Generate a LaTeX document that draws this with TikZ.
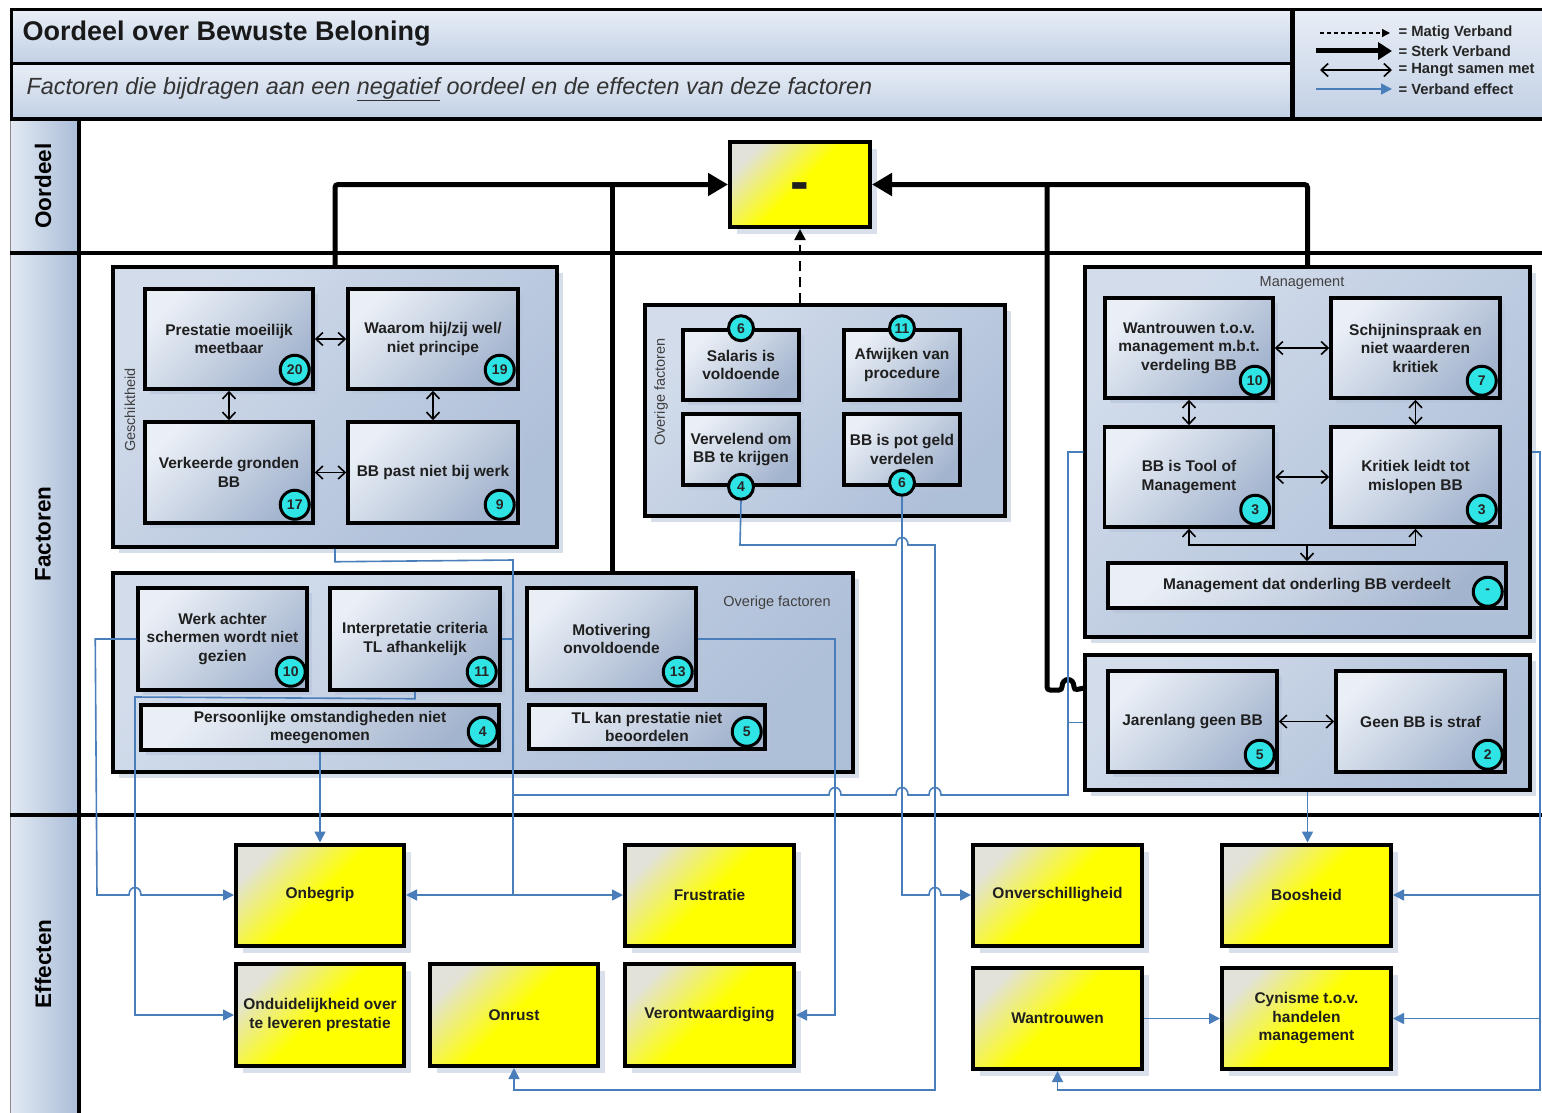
\documentclass[tikz,border=0pt]{standalone}
\usepackage{fontspec}
\setmainfont{Liberation Sans}
\usetikzlibrary{arrows.meta,shadows,calc}

\definecolor{hdrTop}{HTML}{E8EEF6}
\definecolor{hdrBot}{HTML}{C2D0E5}
\definecolor{laneL}{HTML}{E2E9F3}
\definecolor{laneR}{HTML}{AABDD8}
\definecolor{grpA}{HTML}{D2DCEB}
\definecolor{grpB}{HTML}{AEBFD8}
\definecolor{boxA}{HTML}{EAEFF6}
\definecolor{boxB}{HTML}{A3B4CE}
\definecolor{yelA}{HTML}{E2E2D8}
\definecolor{yelB}{HTML}{FFFF00}
\definecolor{badgeC}{HTML}{2FE4E4}
\definecolor{effBlue}{HTML}{4A7EBB}
\definecolor{shadowC}{HTML}{B5C3DA}

% line jumps (small arcs) on horizontal connectors
\newcommand\jumpR[2]{-- ({#1-6},#2) .. controls ({#1-6},{#2-10}) and ({#1+6},{#2-10}) .. ({#1+6},#2)}
\newcommand\jumpL[2]{-- ({#1+6},#2) .. controls ({#1+6},{#2-10}) and ({#1-6},{#2-10}) .. ({#1-6},#2)}

\begin{document}
\begin{tikzpicture}[x=1pt,y=-1pt,
  hdrbox/.style={draw=black, line width=3, top color=hdrTop, bottom color=hdrBot, inner sep=0, anchor=north west},
  lanecell/.style={left color=laneL, right color=laneR},
  lanetext/.style={rotate=90, font=\fontsize{22.5}{24}\selectfont\bfseries},
  grp/.style={draw=black, line width=3.5, top color=grpA, bottom color=grpB, shading angle=45, inner sep=0,
    drop shadow={shadow xshift=6pt, shadow yshift=-6pt, fill=shadowC, opacity=0.55}},
  grplabel/.style={font=\fontsize{14.5}{16}\selectfont, text=black!75},
  fbox/.style={draw=black, line width=3.5, top color=boxA, bottom color=boxB, shading angle=45, inner sep=1,
    align=center, font=\fontsize{15.5}{18.5}\selectfont\bfseries, text=black!88,
    drop shadow={shadow xshift=5pt, shadow yshift=-5pt, fill=shadowC, opacity=0.6}},
  ebox/.style={draw=black, line width=4, top color=yelA, bottom color=yelB, middle color=yelB, shading angle=45,
    inner sep=1, align=center, font=\fontsize{15.5}{18.5}\selectfont\bfseries, text=black!88,
    minimum width=169, minimum height=101,
    drop shadow={shadow xshift=7pt, shadow yshift=-7pt, fill=shadowC, opacity=0.5}},
  badge/.style={circle, draw=black, line width=3, fill=badgeC, minimum size=29, inner sep=0,
    font=\fontsize{14}{14}\selectfont\bfseries, text=black!85},
  assoc/.style={draw=black, line width=1.6, {Straight Barb[length=7pt,width=13pt]}-{Straight Barb[length=7pt,width=13pt]}},
  assocend/.style={draw=black, line width=1.6, -{Straight Barb[length=7pt,width=13pt]}},
  eff/.style={draw=effBlue, line width=1.6, -{Triangle[length=11pt,width=11pt]}},
  effl/.style={draw=effBlue, line width=1.6},
  strong/.style={draw=black, line width=5, rounded corners=3, -{Triangle[length=20pt,width=22pt]}},
  strongl/.style={draw=black, line width=5, rounded corners=3},
  moderate/.style={draw=black, line width=2, dash pattern=on 10pt off 6pt, -{Triangle[length=11pt,width=11pt]}},
  legtext/.style={anchor=west, font=\fontsize{14.8}{16}\selectfont\bfseries, text=black!85}
]
\useasboundingbox (0,0) rectangle (1542,1113);
\fill[white] (0,0) rectangle (1542,1113);

% ---------- header ----------
\node[hdrbox, minimum width=1280, minimum height=54] (titlebar) at (10,8) {};
\node[hdrbox, minimum width=1280, minimum height=55] (subbar) at (10,62) {};
\node[hdrbox, minimum width=250, minimum height=109] (legend) at (1292,8) {};
\node[anchor=west, font=\fontsize{27}{30}\selectfont\bfseries, text=black!90] (title) at (19,34) {Oordeel over Bewuste Beloning};
\node[anchor=west, font=\fontsize{23.4}{26}\selectfont\itshape, text=black!80] (subtitle) at (23,89)
  {Factoren die bijdragen aan een \underline{negatief} oordeel en de effecten van deze factoren};

% legend
\coordinate (la1) at (1320,33); \coordinate (lb1) at (1390,33);
\coordinate (la2) at (1316,51); \coordinate (lb2) at (1392,51);
\coordinate (la3) at (1320,70); \coordinate (lb3) at (1392,70);
\coordinate (la4) at (1316,89); \coordinate (lb4) at (1392,89);
\draw[draw=black, line width=1.2, dash pattern=on 4pt off 3pt, -{Triangle[length=8pt,width=8pt]}] (la1) -- (lb1);
\draw[draw=black, line width=5, -{Triangle[length=14pt,width=17pt]}] (la2) -- (lb2);
\draw[assoc] (la3) -- (lb3);
\draw[eff] (la4) -- (lb4);
\node[legtext] (lt1) at (1395,33) {= Matig Verband};
\node[legtext] (lt2) at (1395,51) {= Sterk Verband};
\node[legtext] (lt3) at (1395,70) {= Hangt samen met};
\node[legtext] (lt4) at (1395,89) {= Verband effect};

% ---------- swimlanes ----------
\fill[lanecell] (10,120) rectangle (79,253);
\fill[lanecell] (10,253) rectangle (79,815);
\fill[lanecell] (10,815) rectangle (79,1113);
\node[lanetext] (lane1) at (43,186) {Oordeel};
\node[lanetext] (lane2) at (43,534) {Factoren};
\node[lanetext] (lane3) at (43,964) {Effecten};
\draw[black!45, line width=1] (10,120) -- (10,1113);
\draw[black, line width=3.5] (79,120) -- (79,1113);
\draw[black, line width=3.5] (10,119) -- (1542,119);
\draw[black, line width=3.5] (10,253) -- (1542,253);
\draw[black, line width=3.5] (10,815) -- (1542,815);

% ---------- judgement ----------
\node[ebox, minimum width=140, minimum height=85, text height=31pt, text depth=0pt,
  font=\fontsize{56}{56}\selectfont\bfseries] (neg) at (800,184.5) {-};

% ---------- factor groups ----------
\node[grp, minimum width=444, minimum height=280] (g1) at (335,407) {};
\node[grp, minimum width=360, minimum height=211] (g2) at (825,410.5) {};
\node[grp, minimum width=740, minimum height=199] (g3) at (483,672.5) {};
\node[grp, minimum width=445, minimum height=370] (g4) at (1307.5,452) {};
\node[grp, minimum width=445, minimum height=135] (g5) at (1307.5,722.5) {};

\node[grplabel, rotate=90] (l1) at (130,410) {Geschiktheid};
\node[grplabel, rotate=90] (l2) at (661,392) {Overige factoren};
\node[grplabel] (l3) at (777,603) {Overige factoren};
\node[grplabel] (l4) at (1302,283) {Management};

% Geschiktheid
\node[fbox, minimum width=168, minimum height=100] (pm) at (229,339) {Prestatie moeilijk\\meetbaar};
\node[fbox, minimum width=170, minimum height=100] (wh) at (433,339) {Waarom hij/zij wel/\\niet principe};
\node[fbox, minimum width=168, minimum height=101] (vg) at (229,472.5) {Verkeerde gronden\\BB};
\node[fbox, minimum width=170, minimum height=101] (bp) at (433,472.5) {BB past niet bij werk};
\node[badge] (b-pm) at ($(pm.south east)+(-20,-21)$) {20};
\node[badge] (b-wh) at ($(wh.south east)+(-20,-21)$) {19};
\node[badge] (b-vg) at ($(vg.south east)+(-20,-20)$) {17};
\node[badge] (b-bp) at ($(bp.south east)+(-20,-20)$) {9};

% Overige factoren (middle)
\node[fbox, minimum width=116, minimum height=70] (sal) at (741,365) {Salaris is\\voldoende};
\node[fbox, minimum width=116, minimum height=70] (afw) at (902,365) {Afwijken van\\procedure};
\node[fbox, minimum width=116, minimum height=71] (verv) at (741,449.5) {Vervelend om\\BB te krijgen};
\node[fbox, minimum width=116, minimum height=71] (pot) at (902,449.5) {BB is pot geld\\verdelen};
\node[badge, minimum size=25] (b-sal) at (sal.north) {6};
\node[badge, minimum size=25] (b-afw) at (afw.north) {11};
\node[badge, minimum size=25] (b-verv) at (verv.south) {4};
\node[badge, minimum size=25] (b-pot) at ($(pot.south)+(0,-4)$) {6};

% Overige factoren (lower)
\node[fbox, minimum width=169, minimum height=102] (wrk) at (222.5,639) {Werk achter\\schermen wordt niet\\gezien};
\node[fbox, minimum width=170, minimum height=102] (int) at (415,639) {Interpretatie criteria\\TL afhankelijk};
\node[fbox, minimum width=169, minimum height=102] (mot) at (611.5,639) {Motivering\\onvoldoende};
\node[fbox, minimum width=358, minimum height=45] (per) at (320,727.5) {Persoonlijke omstandigheden niet\\meegenomen};
\node[fbox, minimum width=236, minimum height=44] (tl) at (647,727) {TL kan prestatie niet\\beoordelen};
\node[badge] (b-wrk) at ($(wrk.south east)+(-18,-20)$) {10};
\node[badge] (b-int) at ($(int.south east)+(-20,-20)$) {11};
\node[badge] (b-mot) at ($(mot.south east)+(-20,-20)$) {13};
\node[badge] (b-per) at ($(per.south east)+(-18,-20)$) {4};
\node[badge] (b-tl) at ($(tl.south east)+(-20,-19)$) {5};

% Management
\node[fbox, minimum width=168, minimum height=100] (wan) at (1189,348) {Wantrouwen t.o.v.\\management m.b.t.\\verdeling BB};
\node[fbox, minimum width=169, minimum height=100] (sch) at (1415.5,348) {Schijninspraak en\\niet waarderen\\kritiek};
\node[fbox, minimum width=169, minimum height=100] (tool) at (1189,477) {BB is Tool of\\Management};
\node[fbox, minimum width=169, minimum height=100] (krit) at (1415.5,477) {Kritiek leidt tot\\mislopen BB};
\node[fbox, minimum width=398, minimum height=45] (mdat) at (1307,585.5) {Management dat onderling BB verdeelt};
\node[badge] (b-wan) at ($(wan.south east)+(-20,-19)$) {10};
\node[badge] (b-sch) at ($(sch.south east)+(-20,-19)$) {7};
\node[badge] (b-tool) at ($(tool.south east)+(-20,-19)$) {3};
\node[badge] (b-krit) at ($(krit.south east)+(-20,-19)$) {3};
\node[badge] (b-mdat) at ($(mdat.south east)+(-20,-18)$) {-};

% Jarenlang / straf
\node[fbox, minimum width=169, minimum height=101] (jar) at (1192.5,721.5) {Jarenlang geen BB};
\node[fbox, minimum width=169, minimum height=101] (geen) at (1420.5,721.5) {Geen BB is straf};
\node[badge] (b-jar) at ($(jar.south east)+(-19,-19)$) {5};
\node[badge] (b-geen) at ($(geen.south east)+(-19,-19)$) {2};

% related-factor arrows
\draw[assoc] (pm.east) -- (wh.west);
\draw[assoc] (vg.east) -- (bp.west);
\draw[assoc] (pm.south) -- (vg.north);
\draw[assoc] (wh.south) -- (bp.north);
\draw[assoc] (wan.east) -- (sch.west);
\draw[assoc] (tool.east) -- (krit.west);
\draw[assoc] (wan.south) -- (tool.north);
\draw[assoc] (sch.south) -- (krit.north);
\draw[assoc] (jar.east) -- (geen.west);
\coordinate (mj) at (1307,545);
\draw[assoc] (tool.south) |- (mj) -| (krit.south);
\draw[assocend] (mj) -- (mdat.north);

% ---------- effects ----------
\node[ebox, minimum width=168] (onb) at (320,895) {Onbegrip};
\node[ebox] (fru) at (709.5,895) {Frustratie};
\node[ebox, minimum width=168, minimum height=102] (ond) at (320,1015) {Onduidelijkheid over\\te leveren prestatie};
\node[ebox, minimum width=168, minimum height=102] (onr) at (514,1015) {Onrust};
\node[ebox, minimum height=102] (ver) at (709.5,1015) {Verontwaardiging};
\node[ebox] (onv) at (1057.5,895) {Onverschilligheid};
\node[ebox] (boo) at (1306.5,895) {Boosheid};
\node[ebox] (wtr) at (1057.5,1018.5) {Wantrouwen};
\node[ebox] (cyn) at (1306.5,1018.5) {Cynisme t.o.v.\\handelen\\management};

% ---------- strong and moderate links to the judgement ----------
\coordinate (j1) at (612,184.5);
\coordinate (j2) at (1047,184.5);
\coordinate (g5in) at ($(g5.north west)+(0,35)$);
\draw[strongl] (g3.north -| j1) -- (j1);
\draw[strongl] (g5in) -- (1074,690) .. controls (1074,677) and (1062,677) .. (1062,690) -- (1047,690) -- (j2);
\draw[strong] (g1.north) |- (neg.west);
\draw[strong] (g4.north) |- (neg.east);
\draw[moderate] (g2.north -| neg.south) -- (neg.south);

% ---------- effect links ----------
\coordinate (split) at (513,895);
\draw[eff] (per.south) -- (onb.north);
\draw[eff] (wrk.west) -- ++(-41,0) -- (97,895) \jumpR{135}{895} -- (onb.west);
\draw[eff] (int.south) -- ++(0,7) -- (135,697) -- (135,1015) -- (ond.west);
\draw[effl] (g1.south) -- ++(0,13) -- (513,560) -- (split);
\draw[effl] (int.east) -- (513,639);
\draw[effl] (g4.west) -- (1068,452) -- (1068,795) \jumpL{935}{795} \jumpL{902}{795} \jumpL{835}{795} -- (513,795);
\draw[effl] (g5.west) -- (1068,722.5);
\draw[eff] (split) -- (onb.east);
\draw[eff] (split) -- (fru.west);
\draw[eff] (mot.east) -- (835,639) -- (835,1015) -- (ver.east);
\draw[eff] (b-verv.south) -- (740,545) \jumpR{902}{545} -- (935,545) -- (935,1090) -| (onr.south);
\draw[eff] (b-pot.south) -- (902,895) \jumpR{935}{895} -- (onv.west);
\draw[eff] (g5.south) -- (g5.south |- boo.north);
\draw[eff] (g4.east) -- (1540,452) -- (1540,1090) -| (wtr.south);
\draw[eff] (1540,895) -- (boo.east);
\draw[eff] (1540,1018.5) -- (cyn.east);
\draw[eff] (wtr.east) -- (cyn.west);
\end{tikzpicture}
\end{document}
